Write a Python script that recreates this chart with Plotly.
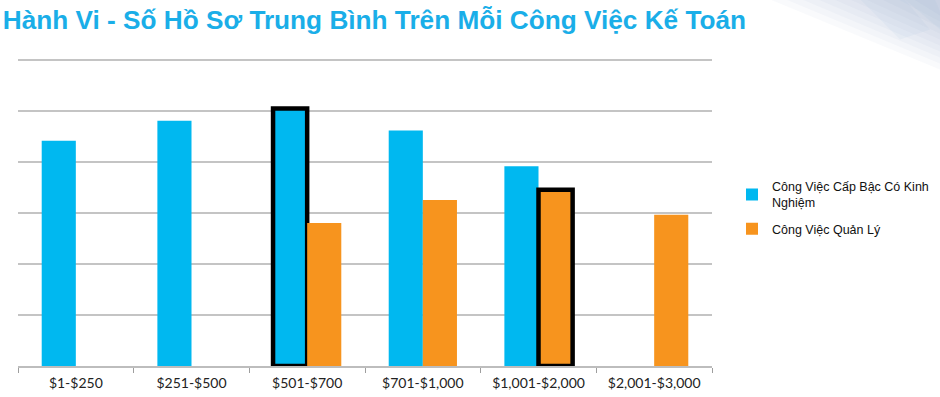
import plotly.graph_objects as go

categories = ["$1-$250", "$251-$500", "$501-$700", "$701-$1,000", "$1,001-$2,000", "$2,001-$3,000"]
series_names = ["Công Việc Cấp Bậc Có Kinh<br>Nghiệm", "Công Việc Quản Lý"]
experienced = [4.41, 4.80, 5.04, 4.61, 3.91, None]
management = [None, None, 2.80, 3.25, 3.45, 2.96]
highlight_exp = [0, 0, 4.5, 0, 0, 0]
highlight_mgr = [0, 0, 0, 0, 4.5, 0]

BLUE = "#00B8F0"
ORANGE = "#F7941E"

YMAX = 6.03
L, R, B = 18, 712, 366
T = B - 306 * YMAX / 6
W, H = 940, 397

def px(x):
    return (x - L) / (R - L)

def py(y):
    return (B - y) / (B - T)

fig = go.Figure()
fig.add_trace(go.Bar(
    x=categories, y=experienced, name=series_names[0], legendgroup="a",
    marker=dict(color=BLUE, line=dict(color="black", width=highlight_exp)),
))
fig.add_trace(go.Bar(
    x=categories, y=management, name=series_names[1], legendgroup="b",
    marker=dict(color=ORANGE, line=dict(color="black", width=highlight_mgr)),
))

# soft decorative gradient in the top-right corner
shapes = []
for i in range(10):
    x0 = 770 + i * 16
    yb = 70 - i * 6
    pts = [(x0, 0), (940, 0), (940, yb)]
    path = "M " + " L ".join(f"{px(a):.4f},{py(b):.4f}" for a, b in pts) + " Z"
    shapes.append(dict(type="path", path=path, xref="paper", yref="paper",
                       fillcolor="#7f93b5", opacity=0.045, line=dict(width=0), layer="below"))
for pts, op, col in [
    ([(860, 0), (905, 0), (930, 30), (900, 40)], 0.08, "#8fb8d8"),
    ([(905, 0), (935, 0), (940, 12), (940, 30)], 0.10, "#8fb8d8"),
]:
    path = "M " + " L ".join(f"{px(a):.4f},{py(b):.4f}" for a, b in pts) + " Z"
    shapes.append(dict(type="path", path=path, xref="paper", yref="paper",
                       fillcolor=col, opacity=op, line=dict(width=0), layer="below"))

fig.update_layout(
    width=W, height=H,
    margin=dict(l=L, r=W - R, t=T, b=H - B, autoexpand=False),
    paper_bgcolor="white", plot_bgcolor="white",
    barmode="group", bargap=0.41, bargroupgap=0,
    shapes=shapes,
    title=dict(
        text="<b>Hành Vi - Số Hồ Sơ Trung Bình Trên Mỗi Công Việc Kế Toán</b>",
        font=dict(family="Liberation Sans, Arial, sans-serif", size=26.2, color="#1AAEE8"),
        x=0.003, xanchor="left", xref="container",
        y=0.972, yanchor="top", yref="container",
        pad=dict(l=0, t=0, r=0, b=0),
    ),
    font=dict(family="Liberation Sans, Arial, sans-serif", size=12, color="#222222"),
    legend=dict(
        x=px(732), y=py(172), xanchor="left", yanchor="top",
        font=dict(family="Liberation Sans, Arial, sans-serif", size=12.5, color="#111111"),
        bgcolor="rgba(0,0,0,0)", traceorder="grouped", tracegroupgap=7, itemwidth=30,
    ),
    xaxis=dict(
        showline=True, linecolor="#BDBDBD", linewidth=1.5,
        ticks="outside", tickson="boundaries", ticklen=5, tickcolor="#9E9E9E",
        tickfont=dict(family="Lato, Carlito, sans-serif", size=14, color="#222222"),
        ticklabelstandoff=3,
        showgrid=False, automargin=False,
    ),
    yaxis=dict(
        range=[0, YMAX], dtick=1, showticklabels=False,
        showgrid=True, gridcolor="#C4C4C4", gridwidth=1.5,
        zeroline=False, showline=False, automargin=False,
    ),
)

fig.write_html(
    "out.html",
    config={"displayModeBar": False},
    post_script="document.body.style.margin='0';document.body.style.overflow='hidden';",
)
